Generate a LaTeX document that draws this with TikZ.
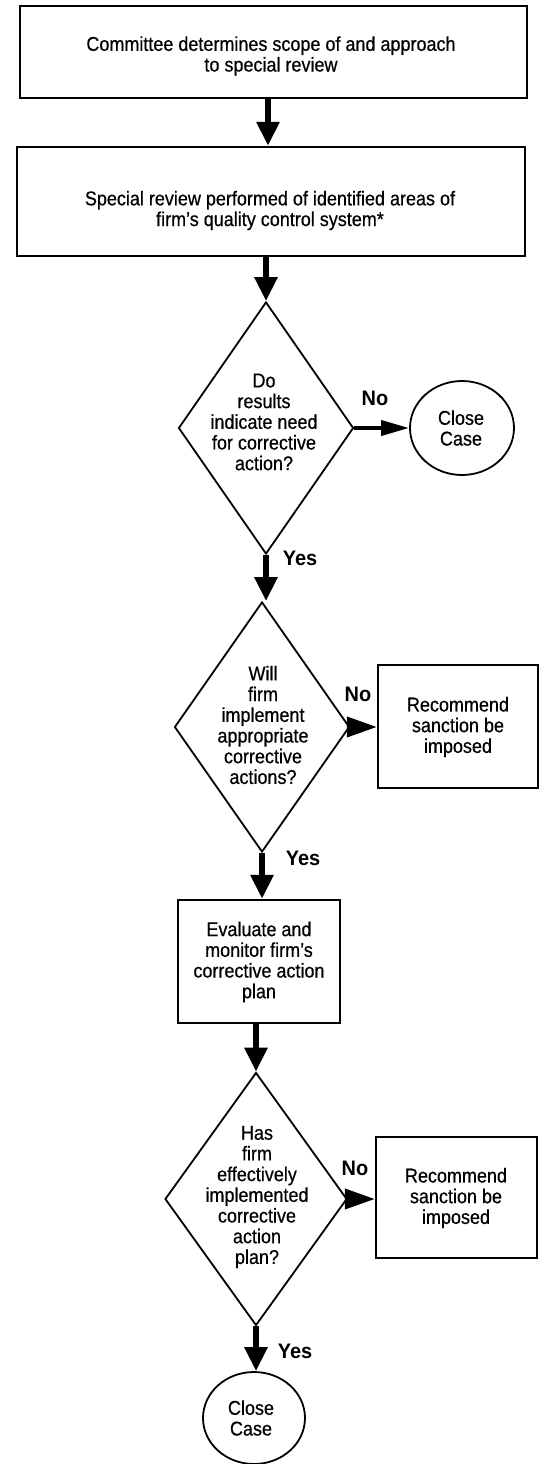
\documentclass[tikz,border=0pt]{standalone}
\usepackage{fontspec}
\setmainfont[FakeStretch=0.9,FakeBold=0.5]{Liberation Sans}
\newfontfamily\lblfont[FakeStretch=0.95]{Liberation Sans}
\usetikzlibrary{shapes.geometric,arrows.meta}
\begin{document}
\begin{tikzpicture}[x=1pt,y=-1pt,
  box/.style={draw, line width=2.4pt, inner sep=0pt},
  dia/.style={draw, shape=diamond, line width=1.8pt, inner sep=0pt},
  oval/.style={draw, shape=ellipse, line width=1.8pt, inner sep=0pt},
  txt/.style={font=\fontsize{20}{20.7}\selectfont, align=center, inner sep=0pt},
  lbl/.style={font=\lblfont\fontsize{21}{22}\selectfont\bfseries, inner sep=0pt},
  varrow/.style={line width=6pt, -{Triangle[width=22pt,length=24pt]}},
  harrowa/.style={line width=4pt, -{Triangle[width=15pt,length=28pt]}},
  harrowb/.style={line width=4pt, -{Triangle[width=20pt,length=30pt]}}]
\useasboundingbox (0,0) rectangle (548,1464);

% top boxes
\node[box, minimum width=507pt, minimum height=92pt] (b1) at (273.5,52) {};
\node[txt] (b1t) at (271,56) {Committee determines scope of and approach\\to special review};
\node[box, minimum width=508pt, minimum height=109pt] (b2) at (271,201.5) {};
\node[txt] (b2t) at (270,210.5) {Special review performed of identified areas of\\firm's quality control system*};

% decision 1
\node[dia, minimum width=175pt, minimum height=252pt] (d1) at (266,428) {};
\node[txt] (d1t) at (264,422) {Do\\results\\indicate need\\for corrective\\action?};
\node[oval, minimum width=104pt, minimum height=94pt] (c1) at (462,428) {};
\node[txt] (c1t) at (461,428) {Close\\Case};

% decision 2
\node[dia, minimum width=175pt, minimum height=250pt] (d2) at (262,727) {};
\node[txt] (d2t) at (263,725) {Will\\firm\\implement\\appropriate\\corrective\\actions?};
\node[box, minimum width=160pt, minimum height=123pt] (r1) at (458,726.5) {};
\node[txt] (r1t) at (458,727) {Recommend\\sanction be\\imposed};

% evaluate box
\node[box, minimum width=162pt, minimum height=123pt] (ev) at (259,961.5) {};
\node[txt] (evt) at (259,962) {Evaluate and\\monitor firm's\\corrective action\\plan};

% decision 3
\node[dia, minimum width=182pt, minimum height=253pt] (d3) at (256,1199) {};
\node[txt] (d3t) at (257,1197) {Has\\firm\\effectively\\implemented\\corrective\\action\\plan?};
\node[box, minimum width=161pt, minimum height=121pt] (r2) at (456.5,1197.5) {};
\node[txt] (r2t) at (456,1198) {Recommend\\sanction be\\imposed};

% final close
\node[oval, minimum width=102pt, minimum height=92pt] (c2) at (254,1418) {};
\node[txt] (c2t) at (251,1418) {Close\\Case};

% connectors
\draw[varrow] (b1.south -| 268,0) -- (b2.north -| 268,0);
\draw[varrow] (b2.south -| d1.north) -- (d1.north);
\draw[harrowa] (d1.east) -- (d1.east -| c1.west);
\draw[varrow] (d1.south) -- (d1.south |- d2.north);
\draw[harrowb] (d2.east) -- (d2.east -| r1.west);
\draw[varrow] (d2.south) -- (d2.south |- ev.north);
\draw[varrow] (ev.south -| d3.north) -- (d3.north);
\draw[harrowb] (d3.east) -- (d3.east -| r2.west);
\draw[varrow] (d3.south) -- (d3.south |- c2.north);

% labels
\node[lbl] (n1) at (375,398) {No};
\node[lbl] (y1) at (300,558) {Yes};
\node[lbl] (n2) at (358,694) {No};
\node[lbl] (y2) at (303,858) {Yes};
\node[lbl] (n3) at (355,1168) {No};
\node[lbl] (y3) at (295,1351) {Yes};
\end{tikzpicture}
\end{document}
